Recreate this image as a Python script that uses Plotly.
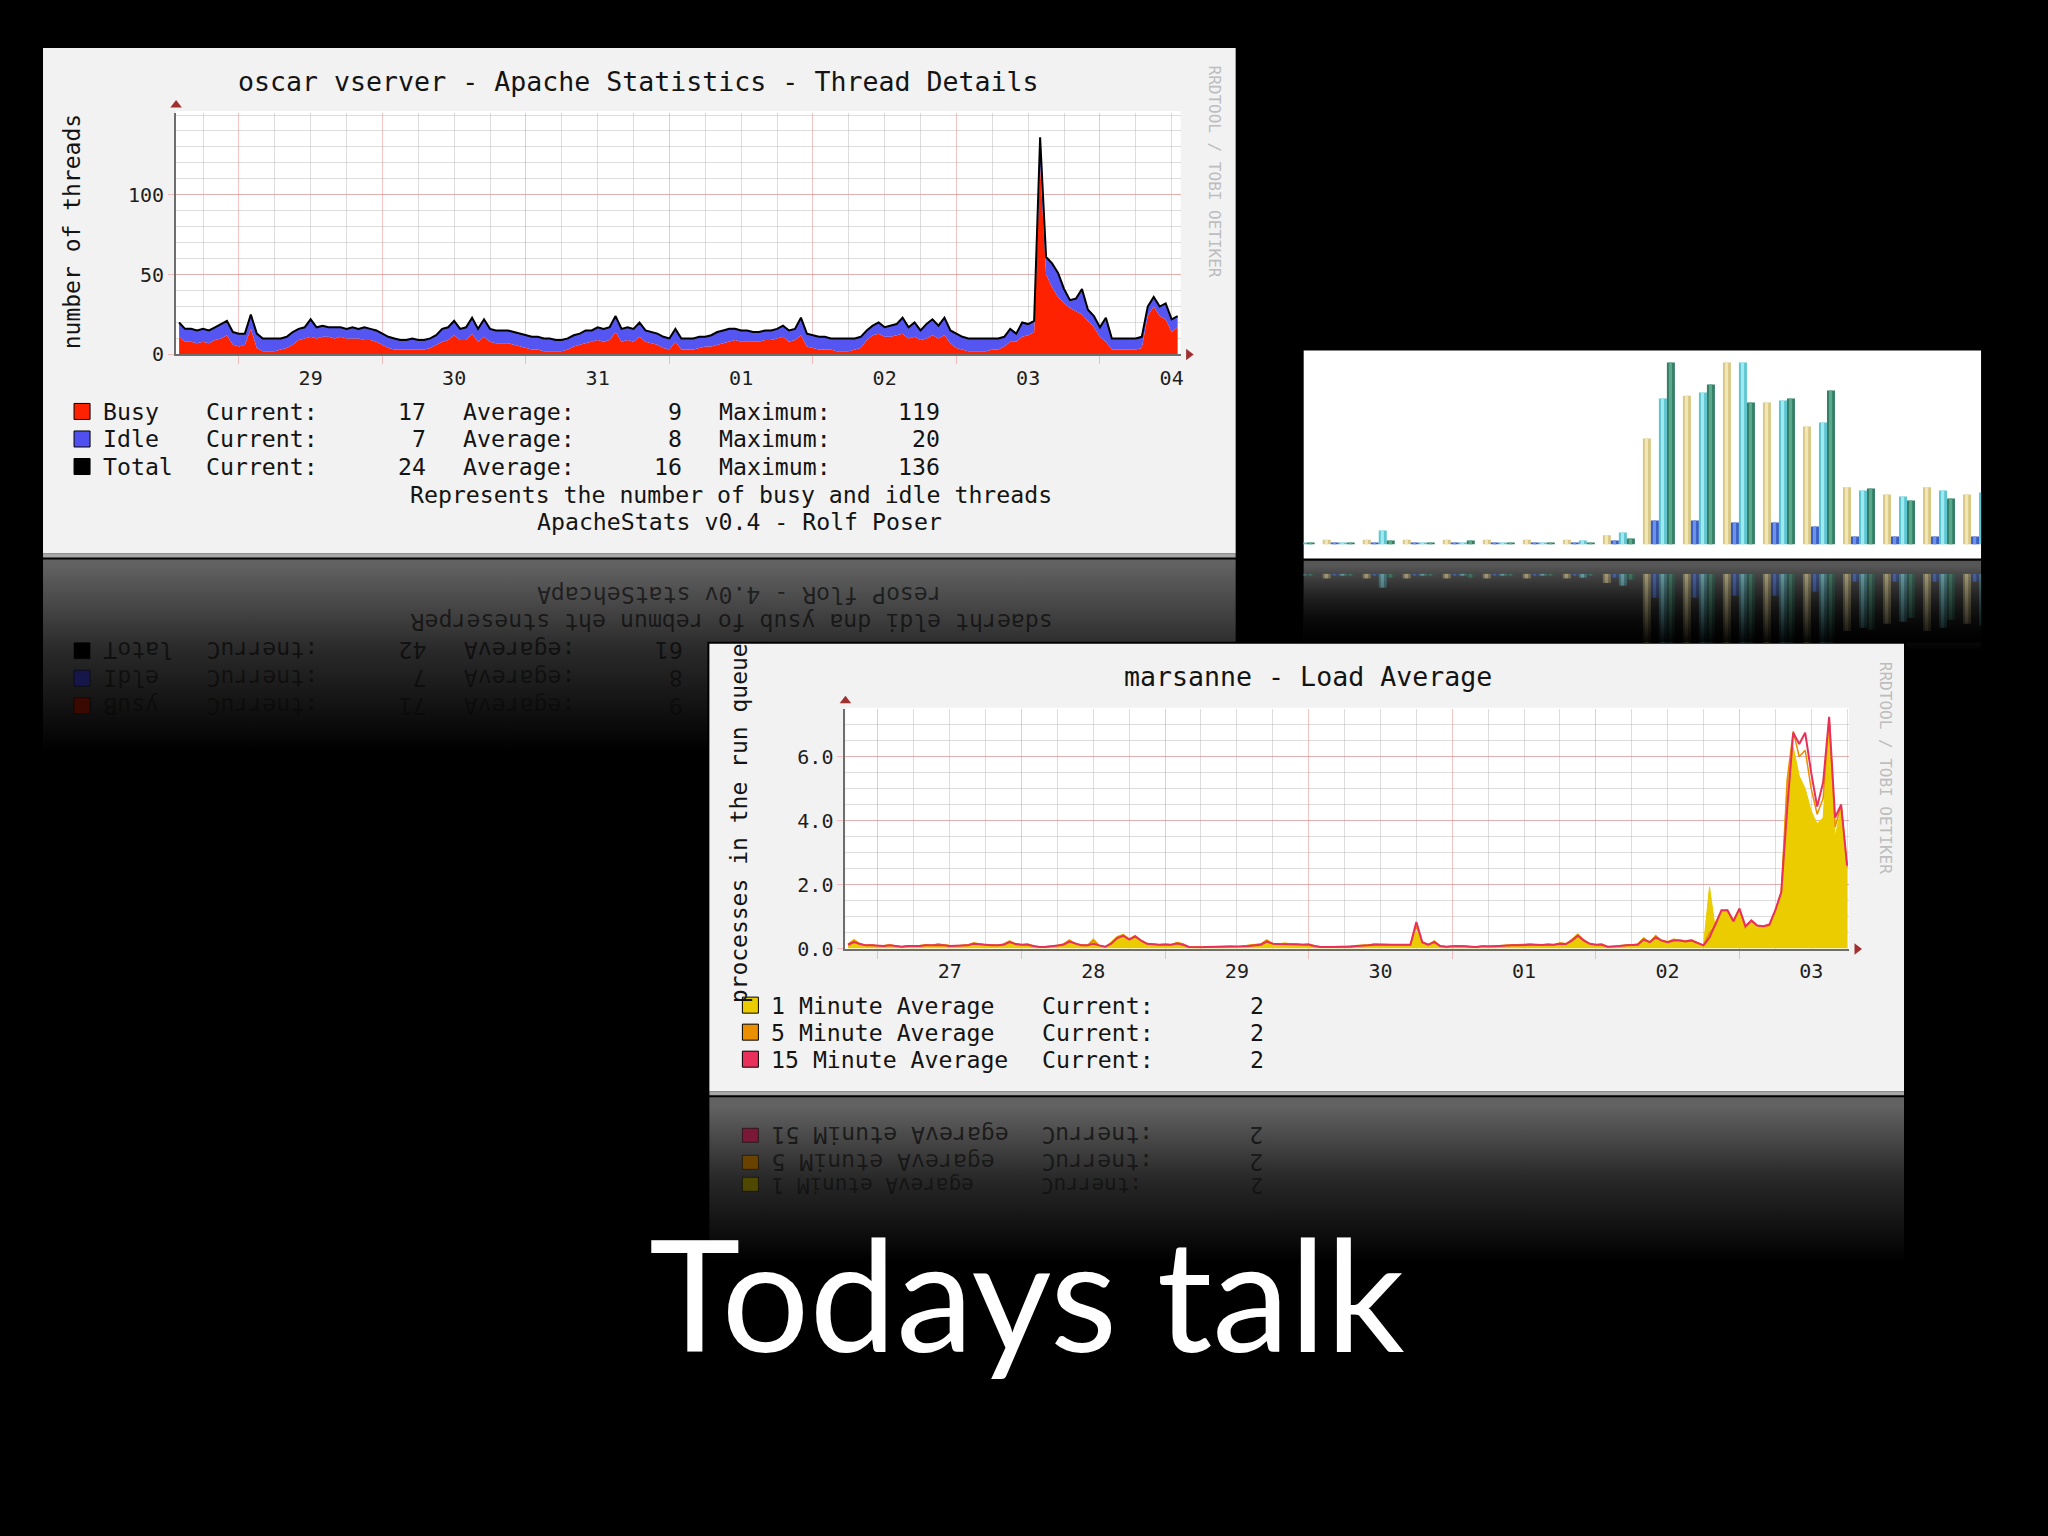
import pandas as pd
import plotly.graph_objects as go

W, H = 2048, 1536
KX, KY = 1.002, 1.009   # compensation for the capture's slight scaling
MONO = 'DejaVu Sans Mono'

# ---------------- Panel 1: Apache thread details (hourly samples) ----------------
P1_START = '2007-03-28 14:00'
BUSY = [11, 8, 8, 7, 8, 7, 9, 10, 12, 6, 5, 6, 16, 4, 2, 2, 2, 3, 4, 6, 9, 10, 11, 10,
        11, 11, 10, 11, 10, 10, 10, 9, 9, 8, 6, 4, 3, 3, 3, 3, 3, 3, 4, 6, 8, 9, 12, 9,
        9, 13, 8, 11, 8, 7, 7, 7, 6, 5, 4, 3, 3, 2, 2, 2, 2, 3, 5, 6, 7, 8, 9, 8,
        9, 14, 8, 9, 8, 11, 8, 7, 6, 4, 3, 8, 3, 3, 3, 4, 5, 5, 6, 7, 8, 9, 8, 8,
        8, 8, 9, 9, 10, 11, 8, 9, 12, 5, 4, 3, 3, 3, 2, 2, 2, 3, 4, 9, 12, 13, 11, 11,
        12, 13, 10, 11, 9, 10, 12, 10, 12, 7, 4, 3, 2, 2, 2, 2, 3, 3, 5, 8, 8, 11, 12, 14,
        119, 50, 42, 36, 32, 29, 27, 25, 21, 17, 11, 8, 3, 3, 3, 3, 3, 4, 24, 30, 24, 22, 14, 17]
TOTAL = [20, 16, 16, 15, 16, 15, 17, 19, 21, 14, 13, 13, 25, 13, 10, 10, 10, 10, 11, 14, 16, 17, 22, 17,
         18, 17, 17, 17, 16, 17, 16, 17, 16, 15, 13, 11, 10, 9, 9, 10, 9, 9, 10, 12, 16, 17, 21, 16,
         17, 23, 16, 22, 16, 15, 15, 15, 14, 13, 12, 11, 11, 10, 10, 9, 9, 10, 12, 13, 15, 15, 17, 16,
         17, 24, 16, 17, 16, 20, 15, 14, 13, 11, 10, 16, 10, 10, 10, 11, 11, 12, 14, 15, 16, 16, 15, 15,
         14, 14, 15, 15, 16, 18, 15, 16, 23, 13, 12, 11, 11, 10, 10, 10, 10, 10, 11, 15, 18, 20, 17, 18,
         19, 23, 17, 20, 15, 19, 22, 18, 23, 15, 13, 11, 10, 10, 10, 10, 10, 10, 11, 16, 13, 20, 19, 21,
         136, 61, 57, 51, 41, 34, 35, 41, 28, 24, 17, 23, 10, 10, 10, 10, 10, 11, 30, 36, 30, 32, 22, 24]
P1_YTICKS = [0, 50, 100]
P1_NAMES = ['Busy', 'Idle', 'Total']
P1_CURRENT = [17, 7, 24]
P1_AVERAGE = [9, 8, 16]
P1_MAXIMUM = [119, 20, 136]
P1_COLORS = ['#FF2200', '#5050F0', '#000000']

# ---------------- Panel 2: grouped bars (partially visible) ----------------
BAR_GROUPS = list(range(18))
BAR_TAN = [2.6, 2.6, 2.6, 2.6, 2.6, 2.6, 2.6, 2.6, 5.1, 58.2, 81.7, 100, 78.0, 64.8, 31.5, 27.5, 31.5, 27.5]
BAR_BLUE = [1.1, 1.1, 1.1, 1.1, 1.1, 1.1, 1.1, 1.1, 2.2, 13.2, 13.2, 12.1, 12.1, 9.9, 4.4, 4.4, 4.4, 4.4]
BAR_CYAN = [1.1, 1.1, 7.7, 1.1, 1.1, 1.1, 1.1, 2.2, 6.6, 80.2, 83.5, 100, 79.1, 67.0, 29.7, 26.4, 29.7, 28.6]
BAR_GREEN = [1.1, 1.1, 2.2, 1.1, 2.2, 1.1, 1.1, 1.1, 3.3, 100, 87.9, 78.0, 80.2, 84.6, 30.8, 24.2, 25.3, 25.0]

# ---------------- Panel 3: load average (hourly samples) ----------------
P3_START = '2007-06-26 19:00'
LOAD_1 = [.15, .3, .15, .1, .12, .08, .1, .12, .08, .06, .1, .08, .1, .12, .1, .15, .12, .1, .08, .1, .12, .18, .15, .12,
          .12, .1, .15, .25, .15, .12, .15, .08, .04, .06, .08, .1, .15, .28, .15, .12, .1, .32, .1, .05, .2, .38, .45, .3,
          .42, .25, .15, .15, .12, .15, .12, .2, .15, .04, .04, .05, .05, .06, .05, .06, .08, .06, .08, .1, .12, .15, .28, .15,
          .15, .18, .15, .15, .12, .15, .08, .04, .05, .06, .05, .06, .08, .08, .1, .12, .15, .14, .12, .12, .12, .1, .12, .55,
          .15, .12, .25, .08, .06, .08, .1, .08, .06, .05, .08, .06, .08, .1, .1, .12, .1, .12, .15, .12, .12, .15, .12, .18,
          .15, .3, .46, .28, .15, .12, .15, .05, .06, .1, .1, .12, .15, .35, .2, .42, .25, .22, .3, .28, .25, .28, .2, .1,
          1.93, .6, 1.15, 1.2, .9, 1.25, .6, .8, .65, .65, .7, 1.15, 1.7, 5.3, 6.3, 5.4, 5.0, 4.3, 3.9, 4.1, 7.1, 3.5, 4.4, 2.5]
LOAD_5 = [.14, .25, .15, .1, .11, .08, .09, .11, .08, .06, .09, .08, .09, .11, .1, .14, .11, .09, .08, .09, .11, .17, .14, .11,
          .11, .1, .14, .23, .15, .12, .14, .08, .05, .06, .08, .09, .14, .26, .15, .11, .1, .25, .1, .05, .18, .36, .43, .3,
          .4, .25, .15, .14, .12, .14, .12, .18, .14, .05, .04, .05, .05, .06, .05, .06, .07, .06, .08, .09, .11, .14, .26, .15,
          .15, .16, .15, .14, .12, .14, .08, .05, .05, .06, .05, .06, .07, .08, .09, .11, .14, .13, .12, .12, .11, .1, .12, .7,
          .18, .12, .23, .08, .06, .08, .09, .08, .06, .05, .08, .06, .08, .09, .1, .11, .1, .12, .14, .12, .12, .14, .12, .17,
          .15, .28, .44, .27, .15, .12, .14, .05, .06, .09, .1, .11, .14, .32, .2, .4, .25, .21, .28, .27, .24, .27, .19, .1,
          .5, .7, 1.18, 1.2, .88, 1.25, .65, .85, .7, .68, .72, 1.18, 1.75, 5.3, 6.8, 6.0, 6.2, 5.0, 4.2, 4.7, 7.2, 3.8, 4.5, 2.55]
LOAD_15 = [.12, .2, .14, .1, .1, .08, .08, .1, .08, .06, .08, .07, .08, .1, .1, .12, .1, .08, .08, .08, .1, .15, .13, .1,
           .1, .1, .12, .2, .14, .12, .12, .08, .05, .05, .07, .08, .12, .22, .15, .1, .1, .15, .1, .06, .15, .33, .4, .28,
           .38, .25, .15, .13, .12, .12, .12, .16, .12, .05, .04, .04, .05, .05, .05, .05, .06, .06, .07, .08, .1, .12, .22, .15,
           .14, .14, .14, .13, .12, .12, .08, .05, .05, .05, .05, .06, .06, .08, .08, .1, .12, .12, .12, .11, .1, .1, .12, .83,
           .2, .12, .2, .08, .06, .07, .08, .07, .06, .05, .07, .06, .07, .08, .1, .1, .1, .12, .12, .12, .11, .13, .12, .15,
           .14, .25, .4, .25, .15, .12, .12, .06, .06, .08, .1, .1, .12, .28, .2, .35, .25, .2, .25, .25, .22, .25, .18, .1,
           .35, .8, 1.2, 1.2, .85, 1.25, .7, .88, .72, .7, .75, 1.2, 1.77, 4.4, 6.75, 6.4, 6.75, 5.5, 4.44, 5.2, 7.25, 4.1, 4.5, 2.6]
P3_YTICKS = [0, 2, 4, 6]
P3_NAMES = ['1 Minute Average', '5 Minute Average', '15 Minute Average']
P3_CURRENT = [2, 2, 2]
P3_COLORS = ['#EACC00', '#EA8F00', '#E8305A']

t1 = pd.date_range(P1_START, periods=len(BUSY), freq='h')
t3 = pd.date_range(P3_START, periods=len(LOAD_1), freq='h')


def P(x):
    return x * KX / W


def Q(y):
    return 1 - y * KY / H


traces = []


def box(x0, y0, x1, y1, color='#000000', grad=None, xa='x', ya='y'):
    kw = dict(x=[x0, x1, x1, x0, x0], y=[y0, y0, y1, y1, y0], mode='lines', fill='toself',
              line=dict(width=0, color='rgba(0,0,0,0)'), fillcolor=color,
              hoverinfo='skip', showlegend=False, xaxis=xa, yaxis=ya)
    if grad is not None:
        cs, s0, s1 = grad
        kw['fillgradient'] = dict(type='vertical', colorscale=cs, start=s0, stop=s1)
    traces.append(go.Scatter(**kw))


GREY_FADE = [[0, '#626262'], [0.45, '#2a2a2a'], [1, '#000000']]

# ---- underlay (pixel coordinates) ----
box(43, 48, 1235, 553, '#F2F2F2')
box(43, 553, 1235, 557, '#A6A6A6')
box(43, 559, 1235, 780, grad=(GREY_FADE, 559, 745))
box(1303, 350, 1980, 558, '#FFFFFF')
box(1303, 560, 1980, 660, grad=([[0, '#606060'], [1, '#000000']], 560, 645))
box(707, 641, 1905, 1096, '#000000')
box(709, 643, 1903, 1090, '#F2F2F2')
box(709, 1090, 1903, 1094, '#A6A6A6')
box(709, 1096, 1903, 1280, grad=(GREY_FADE, 1096, 1250))
box(176, 111, 1180, 354, '#FFFFFF')
box(845, 707, 1848, 948, '#FFFFFF')

# ---- panel 1 ----
traces.append(go.Scatter(x=t1, y=BUSY, mode='lines', line=dict(width=0, color='#FF2200'),
                         fill='tozeroy', fillcolor='#FF2200', xaxis='x2', yaxis='y2',
                         hoverinfo='skip', showlegend=False))
traces.append(go.Scatter(x=t1, y=TOTAL, mode='lines', line=dict(width=2, color='#000000'),
                         fill='tonexty', fillcolor='#5555F2', xaxis='x2', yaxis='y2',
                         hoverinfo='skip', showlegend=False))

# ---- panel 2 bars (with a lighter centre stripe) + reflection ----
BAR_SERIES = [BAR_TAN, BAR_BLUE, BAR_CYAN, BAR_GREEN]
BAR_EDGE = ['#D9C886', '#3A5FC4', '#5CC6D2', '#357F66']
BAR_LIGHT = ['#F0E6B6', '#6E92E8', '#A2E8EF', '#5BA98C']
for xa, ya, op in [('x3', 'y3', 1.0), ('x4', 'y4', 0.5)]:
    for i, vals in enumerate(BAR_SERIES):
        off = -0.4 + 0.2 * i
        traces.append(go.Bar(x=BAR_GROUPS, y=vals, width=0.2, offset=off,
                             marker=dict(color=BAR_EDGE[i], line=dict(width=0)), opacity=op,
                             xaxis=xa, yaxis=ya, hoverinfo='skip', showlegend=False))
        traces.append(go.Bar(x=BAR_GROUPS, y=vals, width=0.08, offset=off + 0.05,
                             marker=dict(color=BAR_LIGHT[i], line=dict(width=0)), opacity=op,
                             xaxis=xa, yaxis=ya, hoverinfo='skip', showlegend=False))

# ---- panel 3 ----
traces.append(go.Scatter(x=t3, y=LOAD_1, mode='lines', line=dict(width=1, color=P3_COLORS[0]),
                         fill='tozeroy', fillcolor=P3_COLORS[0], xaxis='x5', yaxis='y5',
                         hoverinfo='skip', showlegend=False))
traces.append(go.Scatter(x=t3, y=LOAD_5, mode='lines', line=dict(width=1.5, color=P3_COLORS[1]),
                         xaxis='x5', yaxis='y5', hoverinfo='skip', showlegend=False))
traces.append(go.Scatter(x=t3, y=LOAD_15, mode='lines', line=dict(width=2, color=P3_COLORS[2]),
                         xaxis='x5', yaxis='y5', hoverinfo='skip', showlegend=False))

# ---- overlay (pixel coordinates) ----
box(1303, 560, 1980, 642, grad=([[0, 'rgba(0,0,0,0.1)'], [1, 'rgba(0,0,0,1)']], 562, 640),
    xa='x6', ya='y6')
traces.append(go.Scatter(x=[176, 1188, 845, 1856], y=[105, 354, 700, 948], mode='markers',
                         marker=dict(symbol=['triangle-up', 'triangle-right', 'triangle-up', 'triangle-right'],
                                     size=10, color='#A03030', line=dict(width=0)),
                         xaxis='x6', yaxis='y6', hoverinfo='skip', showlegend=False))

MAJ = 'rgba(235,110,110,0.40)'
MINC = 'rgba(170,170,170,0.40)'
AXL = '#6E6E6E'
TICKF = dict(family=MONO, size=20, color='#1E1E1E')


def date_x(domain, anchor, rng, t0, standoff):
    return dict(domain=domain, anchor=anchor, type='date', range=rng, tick0=t0, dtick=86400000,
                tickformat='%d', ticklabelmode='period', showgrid=True, gridcolor=MAJ, gridwidth=1,
                minor=dict(tick0=t0, dtick=21600000, showgrid=True, gridcolor=MINC, gridwidth=1, ticks=''),
                ticks='outside', ticklen=8, tickcolor=MAJ, tickwidth=1, showline=True, linecolor=AXL,
                linewidth=2, zeroline=False, tickfont=TICKF, fixedrange=True, ticklabelstandoff=standoff)


def val_y(domain, anchor, rng, vals, mdt, fmt=None):
    d = dict(domain=domain, anchor=anchor, range=rng, tickmode='array', tickvals=vals,
             showgrid=True, gridcolor=MAJ,
             minor=dict(tick0=0, dtick=mdt, showgrid=True, gridcolor=MINC, ticks=''),
             ticks='outside', ticklen=6, tickcolor=MAJ, showline=True, linecolor=AXL, linewidth=2,
             zeroline=False, tickfont=TICKF, fixedrange=True)
    if fmt:
        d['tickformat'] = fmt
    return d


hidden_px = dict(visible=False, fixedrange=True)
WX, HY = W / KX, H / KY

layout = dict(
    width=W, height=H, margin=dict(l=0, r=0, t=0, b=0, pad=0),
    paper_bgcolor='#000000', plot_bgcolor='rgba(0,0,0,0)', showlegend=False,
    barmode='overlay',
    xaxis=dict(domain=[0, 1], anchor='y', range=[0, WX], **hidden_px),
    yaxis=dict(domain=[0, 1], anchor='x', range=[HY, 0], **hidden_px),
    xaxis2=date_x([P(176), P(1180)], 'y2', ['2007-03-28 13:30', '2007-04-04 13:30'], '2007-03-29', -3),
    yaxis2=val_y([Q(354), Q(113.3)], 'x2', [0, 151], P1_YTICKS, 10),
    xaxis3=dict(domain=[P(1303), P(1980)], anchor='y3', range=[0.125, 17.05], **hidden_px),
    yaxis3=dict(domain=[Q(544), Q(350)], anchor='x3', range=[0, 106.6], **hidden_px),
    xaxis4=dict(domain=[P(1303), P(1980)], anchor='y4', range=[0.125, 17.05], **hidden_px),
    yaxis4=dict(domain=[Q(642), Q(573)], anchor='x4', range=[37.9, 0], **hidden_px),
    xaxis5=date_x([P(845), P(1848)], 'y5', ['2007-06-26 18:34', '2007-07-03 18:19'], '2007-06-27', -5),
    yaxis5=val_y([Q(947.5), Q(708)], 'x5', [0, 7.5], P3_YTICKS, 0.5, '.1f'),
    xaxis6=dict(domain=[0, 1], anchor='y6', range=[0, WX], **hidden_px),
    yaxis6=dict(domain=[0, 1], anchor='x6', range=[HY, 0], **hidden_px),
)

ann = []
shapes = []


def T(x, y, s, size=23.2, color='#141414', xa='left', angle=0, family=MONO):
    ann.append(dict(x=P(x), y=Q(y), xref='paper', yref='paper', text=s, showarrow=False,
                    xanchor=xa, yanchor='middle', textangle=angle,
                    font=dict(family=family, size=size, color=color)))


def M(x, y, s, color='rgba(0,0,0,0.6)', xa='left', size=23.2):
    # mirrored (reflected) text: reversed characters, turned upside down
    T(x, y, s[::-1], size=size, color=color, xa=xa, angle=180)


def S(x0, y0, x1, y1, fill, line='#000000'):
    shapes.append(dict(type='rect', xref='paper', yref='paper', x0=P(x0), x1=P(x1), y0=Q(y1), y1=Q(y0),
                       fillcolor=fill, line=dict(color=line, width=1), layer='above'))


# ---- panel 1 text ----
T(638, 81, 'oscar vserver - Apache Statistics - Thread Details', size=26.6, xa='center')
T(72, 232, 'number of threads', size=23, xa='center', angle=-90)
T(1214, 171, 'RRDTOOL / TOBI OETIKER', size=16, color='#BDBDBD', xa='center', angle=90)
rows1 = [411, 438.5, 466]
for i, yy in enumerate(rows1):
    S(74, yy - 8, 90, yy + 8, P1_COLORS[i])
    T(101, yy, P1_NAMES[i])
    T(204, yy, 'Current:')
    T(428, yy, str(P1_CURRENT[i]), xa='right')
    T(461, yy, 'Average:')
    T(684, yy, str(P1_AVERAGE[i]), xa='right')
    T(717, yy, 'Maximum:')
    T(941, yy, str(P1_MAXIMUM[i]), xa='right')
T(731, 494, 'Represents the number of busy and idle threads', xa='center')
T(739, 521, 'ApacheStats v0.4 - Rolf Poser', xa='center')

# ---- panel 1 reflection ----
M(739, 595, 'ApacheStats v0.4 - Rolf Poser', xa='center')
M(731, 622, 'Represents the number of busy and idle threads', xa='center')
refl_sw1 = ['#3a0a00', '#16164a', '#000000']
for i, yy in enumerate(rows1):
    ym = 1116 - yy
    alpha = 0.6 - 0.12 * (2 - i)
    S(74, ym - 8, 90, ym + 8, refl_sw1[i], line='rgba(0,0,0,0.5)')
    col = 'rgba(0,0,0,%.2f)' % alpha
    M(101, ym, P1_NAMES[i], color=col)
    M(204, ym, 'Current:', color=col)
    M(428, ym, str(P1_CURRENT[i]), color=col, xa='right')
    M(461, ym, 'Average:', color=col)
    M(684, ym, str(P1_AVERAGE[i]), color=col, xa='right')

# ---- panel 3 text ----
T(1307, 676, 'marsanne - Load Average', size=26.6, xa='center')
T(739, 822, 'processes in the run queue', size=23, xa='center', angle=-90)
T(1884, 767, 'RRDTOOL / TOBI OETIKER', size=16, color='#BDBDBD', xa='center', angle=90)
rows3 = [1004, 1031, 1058]
for i, yy in enumerate(rows3):
    S(742, yy - 8, 758, yy + 8, P3_COLORS[i])
    T(769, yy, P3_NAMES[i])
    T(1039, yy, 'Current:')
    T(1265, yy, str(P3_CURRENT[i]), xa='right')

# ---- panel 3 reflection (lowest row nudged up / slightly smaller so it clears the slide title) ----
refl_sw3 = ['#4e4800', '#6a4200', '#7a1838']
refl_y3 = [1183, 1161, 1134]
refl_size3 = [21, 23.2, 23.2]
for i in range(3):
    ym = refl_y3[i]
    alpha = 0.65 - 0.1 * (2 - i)
    col = 'rgba(0,0,0,%.2f)' % alpha
    S(742, ym - 7, 758, ym + 7, refl_sw3[i], line='rgba(0,0,0,0.5)')
    M(769, ym, P3_NAMES[i], color=col, size=refl_size3[i])
    M(1039, ym, 'Current:', color=col, size=refl_size3[i])
    M(1265, ym, str(P3_CURRENT[i]), color=col, xa='right', size=refl_size3[i])

# ---- slide title ----
T(1026, 1291, 'Todays talk', size=155, color='#FFFFFF', xa='center', family='Lato')

layout['annotations'] = ann
layout['shapes'] = shapes

fig = go.Figure(data=traces, layout=layout)
fig.write_html(
    'out.html',
    config={'displayModeBar': False},
    post_script=(
        "var de=document.documentElement, b=document.body;"
        "de.style.margin='0';de.style.padding='0';de.style.background='#000';de.style.overflow='hidden';"
        "b.style.margin='0';b.style.padding='0';b.style.background='#000';b.style.overflow='hidden';"
    ),
)
